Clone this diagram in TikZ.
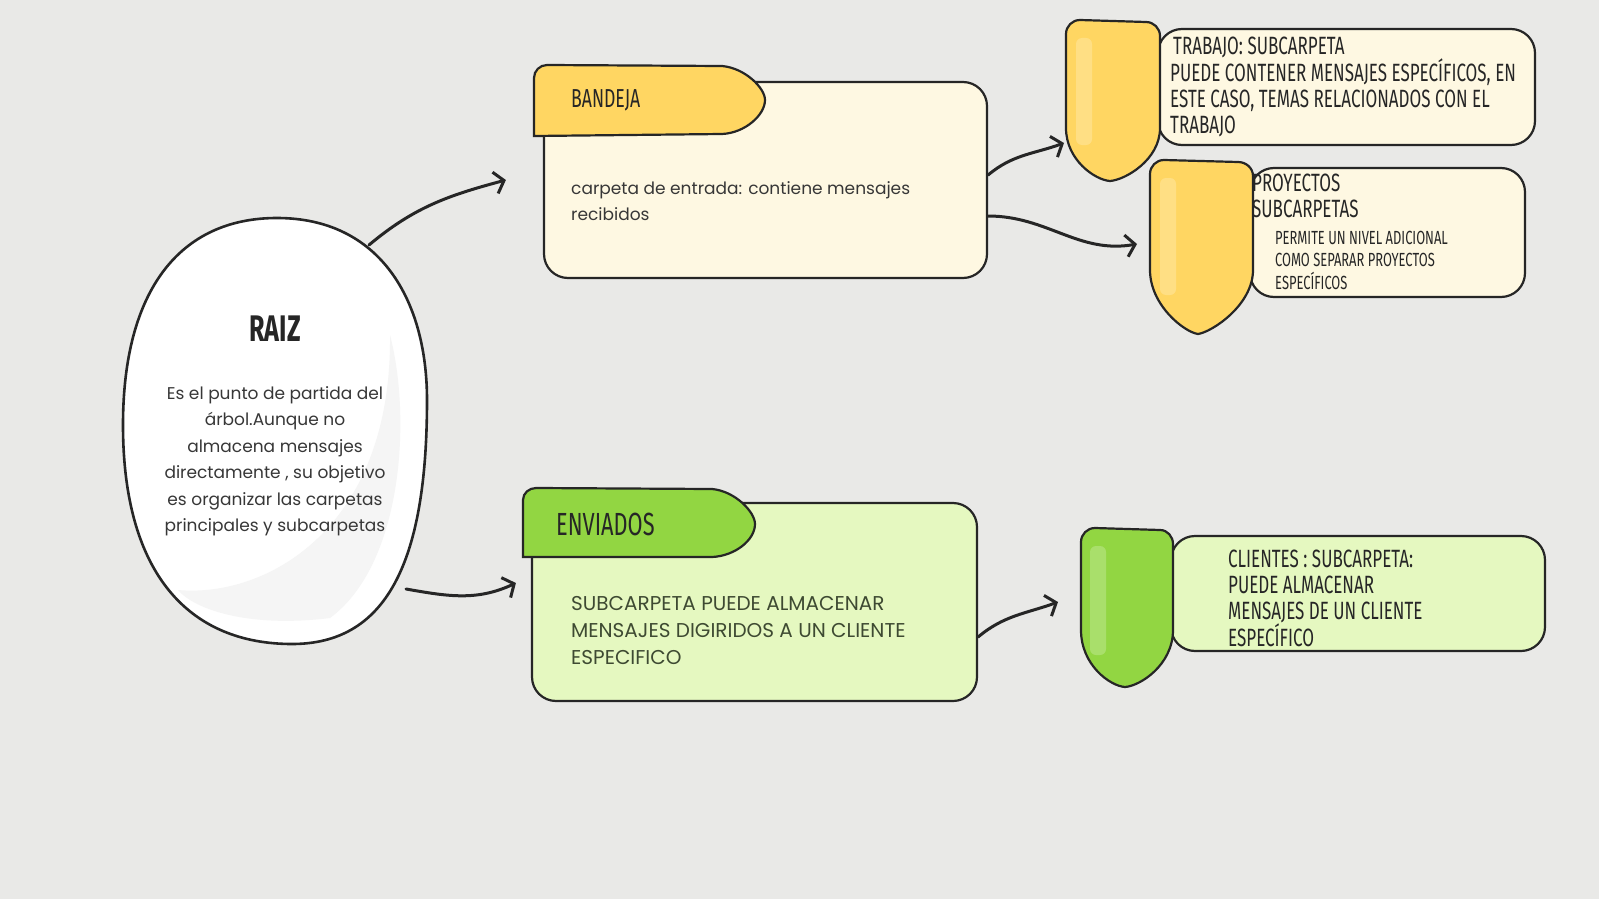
\documentclass[tikz,border=0pt]{standalone}
\usepackage{fontspec}
\setmainfont{Poppins}
\newfontfamily\handfont[FakeStretch=0.68]{Fira Sans}
\usepackage{xcolor}
\usetikzlibrary{arrows.meta}
\usetikzlibrary{positioning}

\definecolor{paper}{RGB}{233,233,231}
\definecolor{ink}{RGB}{38,38,38}
\definecolor{txt}{RGB}{55,55,55}
\definecolor{olive}{RGB}{62,74,50}
\definecolor{yellowTab}{RGB}{255,214,98}
\definecolor{cream}{RGB}{254,248,226}
\definecolor{greenTab}{RGB}{146,214,66}
\definecolor{lightGreen}{RGB}{229,248,192}

\begin{document}
\begin{tikzpicture}[x=1pt, y=-1pt,
  box/.style={draw=ink, line width=2.2pt, rounded corners=24pt, inner sep=0pt},
  tab/.style={draw=ink, line width=2.2pt},
  shield/.style={draw=ink, line width=2.2pt},
  shine/.style={fill=white, opacity=0.22, draw=none, rounded corners=6pt},
  link/.style={draw=ink, line width=3pt, line cap=round,
    -{Straight Barb[length=9pt,width=22pt]}},
  hand/.style={font=\handfont\fontsize{#1}{26}\selectfont, text=ink,
    inner sep=0pt, align=left},
  hand/.default=25,
  small/.style={font=\handfont\fontsize{19}{22.5}\selectfont, text=ink,
    inner sep=0pt, align=left},
  body/.style={font=\fontsize{17}{26.5}\selectfont, text=txt,
    inner sep=0pt, align=left}]
\fill[paper] (0,0) rectangle (1599,899);

% raiz
\filldraw[draw=ink, line width=2.6pt, fill=white]
  (277,218) .. controls (380,218) and (427,300) .. (427,400)
  .. controls (427,565) and (385,644) .. (292,644)
  .. controls (190,644) and (123,575) .. (123,425)
  .. controls (123,290) and (180,218) .. (277,218) -- cycle;
\fill[black!4] (390,335) .. controls (412,420) and (402,565) .. (330,618)
  .. controls (250,628) and (195,610) .. (178,590)
  .. controls (265,598) and (392,530) .. (390,335) -- cycle;
\coordinate (raizNE) at (369,245);
\coordinate (raizSE) at (406,589);
\node[hand=37, font=\handfont\bfseries\fontsize{37}{40}\selectfont] (raizTitle) at (275,329) {RAIZ};
\node[body, align=center] (raizTxt) at (275,461)
  {Es el punto de partida del\\árbol.Aunque no\\almacena mensajes\\directamente , su objetivo\\es organizar las carpetas\\principales y subcarpetas};

% bandeja
\node[box, fill=cream, minimum width=443pt, minimum height=196pt] (bandeja) at (765.5,180) {};
\filldraw[tab, fill=yellowTab] (534,136) -- (534,78) to[out=90,in=180] (547,65)
  -- (722,66) .. controls (745,68) and (765,88) .. (765,100)
  .. controls (765,115) and (745,133) .. (722,134) -- cycle;
\node[hand=26, anchor=west] (bandejaTitle) at (571,100) {BANDEJA};
\node[body, anchor=west] (bandejaTxt) at (571,201)
  {carpeta de entrada: contiene mensajes\\recibidos};

% enviados
\node[box, fill=lightGreen, minimum width=445pt, minimum height=198pt] (enviados) at (754.5,602) {};
\filldraw[tab, fill=greenTab] (523,557) -- (523,500) to[out=90,in=180] (536,488)
  -- (712,489) .. controls (735,491) and (755,512) .. (755,524)
  .. controls (755,540) and (735,556) .. (712,557) -- cycle;
\node[hand=32, anchor=west] (enviadosTitle) at (556,524) {ENVIADOS};
\node[body, font=\fontsize{20}{27}\selectfont, text=olive, anchor=west] (enviadosTxt) at (571,631)
  {SUBCARPETA PUEDE ALMACENAR\\MENSAJES DIGIRIDOS A UN CLIENTE\\ESPECIFICO};

% trabajo
\node[box, fill=cream, minimum width=377pt, minimum height=116pt] (trabajo) at (1346.5,87) {};
\filldraw[shield, fill=yellowTab] (1066,34) to[out=90,in=180] (1080,20) -- (1146,22)
  to[out=0,in=90] (1160,36) -- (1160,128) .. controls (1160,160) and (1125,180) .. (1110,181)
  .. controls (1095,180) and (1066,160) .. (1066,128) -- cycle;
\fill[shine] (1076,38) rectangle (1092,145);
\node[hand, anchor=west] (trabajoTxt) at (1170,87)
  {\hspace{3pt}TRABAJO: SUBCARPETA\\PUEDE CONTENER MENSAJES ESPECÍFICOS, EN\\ESTE CASO, TEMAS RELACIONADOS CON EL\\TRABAJO};

% proyectos
\node[box, fill=cream, minimum width=275pt, minimum height=129pt] (proyectos) at (1387.5,232.5) {};
\filldraw[shield, fill=yellowTab] (1150,174) to[out=90,in=180] (1164,160) -- (1238,162)
  to[out=0,in=90] (1253,176) -- (1253,270) .. controls (1253,305) and (1212,332) .. (1198,334)
  .. controls (1184,332) and (1150,305) .. (1150,270) -- cycle;
\fill[shine] (1160,178) rectangle (1176,295);
\node[hand, anchor=west] (proyTitle) at (1252,196) {PROYECTOS\\SUBCARPETAS};
\node[small, anchor=west] (proyTxt) at (1275,260)
  {PERMITE UN NIVEL ADICIONAL\\COMO SEPARAR PROYECTOS\\ESPECÍFICOS};

% clientes
\node[box, fill=lightGreen, minimum width=374pt, minimum height=115pt] (clientes) at (1358,593.5) {};
\filldraw[shield, fill=greenTab] (1081,542) to[out=90,in=180] (1095,528) -- (1160,530)
  to[out=0,in=90] (1173,544) -- (1173,630) .. controls (1173,665) and (1140,686) .. (1125,687)
  .. controls (1110,686) and (1081,665) .. (1081,630) -- cycle;
\fill[shine] (1090,546) rectangle (1106,655);
\node[hand, anchor=west] (clientesTxt) at (1228,598.5)
  {CLIENTES : SUBCARPETA:\\PUEDE ALMACENAR\\MENSAJES DE UN CLIENTE\\ESPECÍFICO};

% connectors
\coordinate (trabajoIn) at (1064,143);
\coordinate (proyIn) at (1137,244);
\coordinate (clientesIn) at (1058,602);
\draw[link] (raizNE) to[out=40,in=195] ([xshift=-37pt]bandeja.west);
\draw[link] (raizSE) to[out=-10,in=205] ([xshift=-15pt,yshift=19pt]enviados.west);
\draw[link] ([yshift=5pt]bandeja.east) to[out=40,in=200] (trabajoIn);
\draw[link] ([yshift=-36pt]bandeja.east) to[out=0,in=190] (proyIn);
\draw[link] ([yshift=-35pt]enviados.east) to[out=40,in=200] (clientesIn);
\end{tikzpicture}
\end{document}
